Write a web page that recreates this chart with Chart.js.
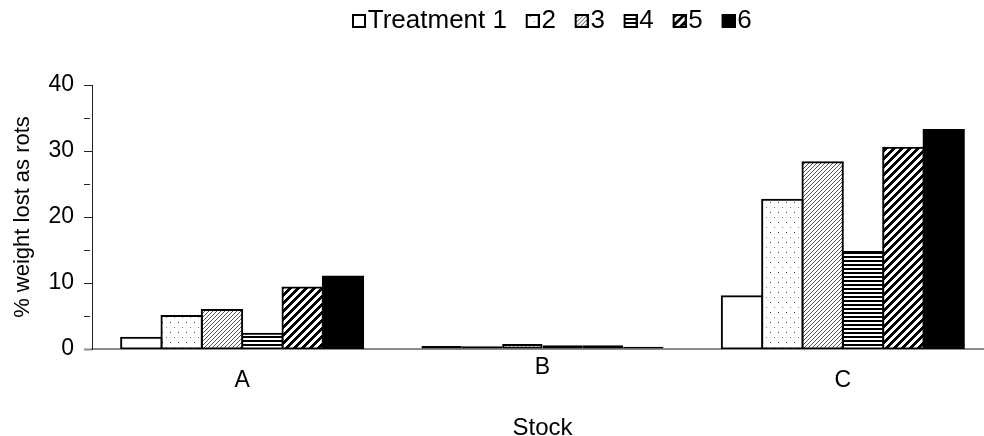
<!DOCTYPE html>
<html>
<head>
<meta charset="utf-8">
<script src="https://cdn.jsdelivr.net/npm/chart.js@4/dist/chart.umd.min.js"></script>
<style>
html,body{margin:0;padding:0;background:#fff;overflow:hidden;width:984px;height:436px;}
#wrap{width:984px;height:436px;overflow:hidden;position:relative;}
#c{position:absolute;left:0;top:0;}
</style>
</head>
<body>
<div id="wrap"><canvas id="c" width="993" height="436"></canvas></div>
<script>
// ---- data ----
const categories = ['A', 'B', 'C'];
const seriesLabels = ['Treatment 1', '2', '3', '4', '5', '6'];
const treatment1 = [1.7, 0.45, 8.0];
const treatment2 = [5.0, 0.4, 22.6];
const treatment3 = [5.9, 0.75, 28.3];
const treatment4 = [2.3, 0.55, 14.7];
const treatment5 = [9.3, 0.55, 30.5];
const treatment6 = [11.0, 0.35, 33.2];
const yTickLabels = [0, 10, 20, 30, 40];
const xTitle = 'Stock';
const yTitle = '% weight lost as rots';

const seriesValues = [treatment1, treatment2, treatment3, treatment4, treatment5, treatment6];

// ---- fill patterns ----
function tile(w, h, draw) {
  const c = document.createElement('canvas');
  c.width = w; c.height = h;
  const t = c.getContext('2d');
  draw(t, w, h);
  return c;
}
const tiles = [
  tile(4, 4, (t, w, h) => { t.fillStyle = '#fff'; t.fillRect(0, 0, w, h); }),
  tile(8, 10, (t, w, h) => {
    t.fillStyle = '#fff'; t.fillRect(0, 0, w, h);
    t.fillStyle = '#444'; t.fillRect(2, 2, 1, 1);
    t.fillStyle = '#888'; t.fillRect(6, 7, 1, 1);
  }),
  tile(4, 4, (t, w, h) => {
    t.fillStyle = '#fff'; t.fillRect(0, 0, w, h);
    t.fillStyle = '#555';
    for (let i = 0; i < 4; i++) t.fillRect(i, 3 - i, 1, 1);
  }),
  tile(4, 4, (t, w, h) => {
    t.fillStyle = '#fff'; t.fillRect(0, 0, w, h);
    t.fillStyle = '#000'; t.fillRect(0, 0, w, 2);
  }),
  tile(8, 8, (t, w, h) => {
    t.fillStyle = '#fff'; t.fillRect(0, 0, w, h);
    t.fillStyle = '#000';
    for (let x = 0; x < w; x++) for (let y = 0; y < h; y++) if ((x + y) % 8 < 4) t.fillRect(x, y, 1, 1);
  }),
  tile(4, 4, (t, w, h) => { t.fillStyle = '#000'; t.fillRect(0, 0, w, h); })
];

const canvas = document.getElementById('c');
const ctx = canvas.getContext('2d');
const fills = tiles.map(tc => ctx.createPattern(tc, 'repeat'));

// legend swatches: box drawn at the right end of the image so the label text follows closely
const legendBoxes = tiles.map(tc => {
  const c = document.createElement('canvas');
  c.width = 44; c.height = 14;
  const l = c.getContext('2d');
  l.fillStyle = l.createPattern(tc, 'repeat');
  l.fillRect(30, 0, 14, 14);
  l.strokeStyle = '#000';
  l.lineWidth = 2;
  l.strokeRect(31, 1, 12, 12);
  return c;
});

Chart.defaults.font.family = "'Liberation Sans', Arial, sans-serif";
Chart.defaults.color = '#000';

const datasets = seriesValues.map((vals, i) => ({
  label: seriesLabels[i],
  data: vals,
  backgroundColor: fills[i],
  borderColor: '#000',
  borderWidth: 2,
  borderSkipped: false,
  inflateAmount: (c) => (c.dataIndex === 1 ? 0 : 1),
  categoryPercentage: 0.806,
  barPercentage: 1
}));

new Chart(ctx, {
  type: 'bar',
  data: { labels: categories, datasets },
  options: {
    responsive: false,
    animation: false,
    devicePixelRatio: 1,
    layout: { padding: { left: 0, right: 0, top: 8, bottom: 0 } },
    plugins: {
      tooltip: { enabled: false },
      legend: {
        position: 'top',
        fullSize: false,
        labels: {
          usePointStyle: true,
          pointStyleWidth: 21.5,
          boxHeight: 14,
          padding: 0,
          color: '#000',
          font: { size: 26 },
          generateLabels: (chart) => {
            const items = Chart.defaults.plugins.legend.labels.generateLabels(chart);
            items.forEach((it, i) => { it.pointStyle = legendBoxes[i]; });
            return items;
          }
        }
      },
      subtitle: {
        display: true,
        text: '',
        position: 'top',
        weight: 500,
        font: { size: 10, lineHeight: '1px' },
        padding: { top: 0, bottom: 40 }
      }
    },
    scales: {
      x: {
        grid: { display: false, drawTicks: false },
        border: { color: '#8c8c8c', width: 2 },
        ticks: {
          padding: 5,
          font: (c) => ({ size: 23, lineHeight: c.index === 1 ? '28px' : '18px' }),
          callback: (v, i) => (i === 1 ? categories[i] : ['', categories[i]])
        },
        title: {
          display: true,
          text: xTitle,
          font: { size: 24, lineHeight: '16px' },
          padding: { top: 0, bottom: 0 }
        },
        afterFit: (s) => { s.height = 87; }
      },
      y: {
        min: 0,
        max: 40,
        ticks: {
          stepSize: 5,
          padding: 10,
          font: { size: 23 },
          callback: (v) => (yTickLabels.includes(v) ? String(v) : '')
        },
        grid: {
          drawOnChartArea: false,
          tickLength: 8,
          tickColor: (c) => (c.tick && c.tick.value === 0 ? '#8c8c8c' : '#222'),
          tickWidth: (c) => (c.tick && c.tick.value === 0 ? 2 : 1),
          tickBorderDash: (c) => (c.tick && c.tick.value % 10 !== 0 ? [6, 20] : [])
        },
        border: { color: '#222', width: 1 },
        title: {
          display: true,
          text: yTitle,
          font: { size: 22 },
          padding: { top: 10, bottom: 0 }
        },
        afterFit: (s) => { s.width = 92; }
      }
    }
  }
});
</script>
</body>
</html>
